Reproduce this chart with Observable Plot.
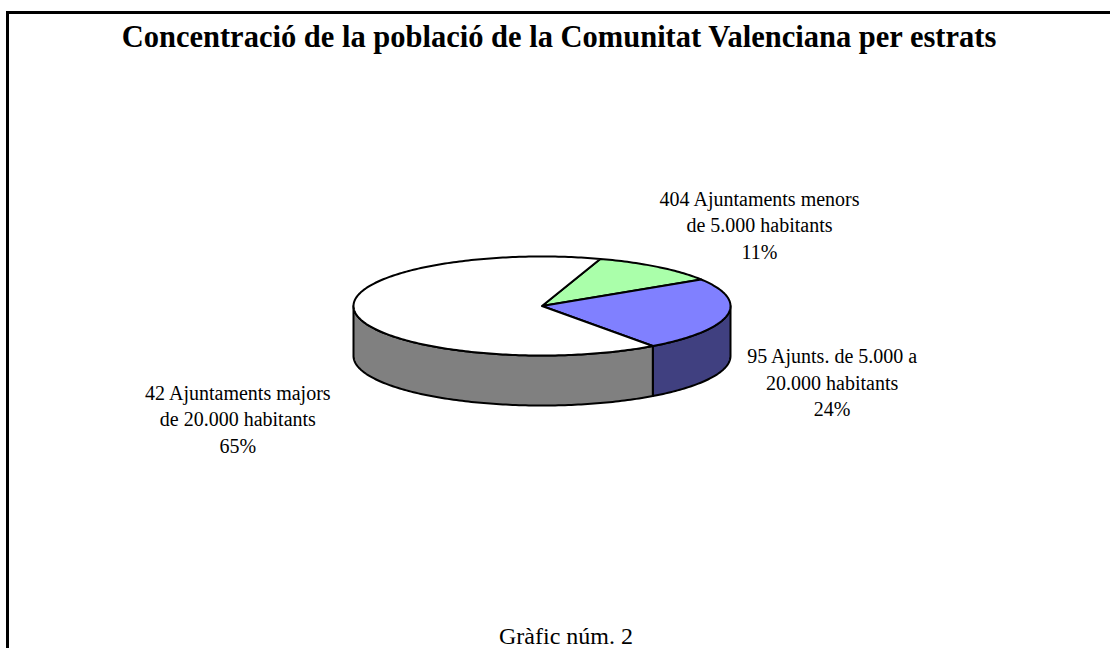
<!DOCTYPE html>
<html><head><meta charset="utf-8">
<script src="https://cdn.jsdelivr.net/npm/d3@7"></script>
<script src="https://cdn.jsdelivr.net/npm/@observablehq/plot@0.6"></script>
<style>
html,body{margin:0;padding:0;background:#fff;}
#page{position:relative;width:1110px;height:648px;overflow:hidden;font-family:"Liberation Serif","Times New Roman",serif;color:#000;}
#frame{position:absolute;left:6px;top:11px;width:1200px;height:800px;border:3px solid #000;box-sizing:border-box;}
#chart{position:absolute;left:0;top:0;}
#title{position:absolute;left:6px;width:1106px;top:22px;text-align:center;font-weight:bold;font-size:30.5px;line-height:1;white-space:nowrap;}
#caption{position:absolute;left:366px;width:400px;top:626px;height:20px;text-align:center;font-size:24px;line-height:20px;white-space:nowrap;}
</style></head>
<body>
<div id="page">
  <div id="frame"></div>
  <div id="chart"></div>
  <div id="title">Concentració de la població de la Comunitat Valenciana per estrats</div>
  <div id="caption">Gràfic núm. 2</div>
</div>
<script>
// ---- data ----
const labelLines = [
  ["404 Ajuntaments menors", "de 5.000 habitants"],
  ["95 Ajunts. de 5.000 a", "20.000 habitants"],
  ["42 Ajuntaments majors", "de 20.000 habitants"]
];
const shares = [11, 24, 65];
const topColors = ["#aaffaa", "#8080ff", "#ffffff"];
const sideColors = ["#558055", "#404080", "#808080"];

// ---- layout ----
const startAngle = -72;       // degrees, clockwise on screen
const depth = 50 / 49.5;      // wall height in ellipse-radius units
const labelOffsets = [[102, -43], [105, 66], [-118, 104]];

const total = d3.sum(shares);
let acc = startAngle;
const slices = shares.map((v, i) => {
  const a = acc, b = acc + v / total * 360;
  acc = b;
  return {i, a, b, mid: (a + b) / 2, label: labelLines[i].join("\n") + "\n" + v + "%"};
});
const rad = t => t * Math.PI / 180;
function arc(a, b, dy = 0) {
  const n = Math.max(2, Math.ceil(Math.abs(b - a)));
  return d3.range(n + 1).map(k => {
    const t = rad(a + (b - a) * k / n);
    return {x: Math.cos(t), y: Math.sin(t) + dy};
  });
}

const marks = [];
// side walls (front half only: 0..180 deg)
for (const s of slices) {
  for (const k of [-1, 0, 1]) {
    const lo = Math.max(s.a, 360 * k), hi = Math.min(s.b, 180 + 360 * k);
    if (hi > lo) {
      const pts = arc(lo, hi).concat(arc(hi, lo, depth));
      marks.push(Plot.line(pts, {x: "x", y: "y", curve: "linear-closed", fill: sideColors[s.i], stroke: "#000", strokeWidth: 2, strokeLinejoin: "round"}));
    }
  }
}
// top sectors
for (const s of slices) {
  const pts = [{x: 0, y: 0}].concat(arc(s.a, s.b));
  marks.push(Plot.line(pts, {x: "x", y: "y", curve: "linear-closed", fill: topColors[s.i], stroke: "#000", strokeWidth: 2, strokeLinejoin: "round"}));
}
// labels
for (const s of slices) {
  const [dx, dy] = labelOffsets[s.i];
  marks.push(Plot.text([s], {
    x: d => Math.cos(rad(d.mid)), y: d => Math.sin(rad(d.mid)),
    text: "label", dx, dy, lineAnchor: "middle", textAnchor: "middle",
    lineHeight: 1.32, fontSize: 20, fill: "#000",
    fontFamily: "Liberation Serif, Times New Roman, serif"
  }));
}

const chart = Plot.plot({
  width: 1110, height: 648,
  marginLeft: 353, marginRight: 380,
  marginTop: 256, marginBottom: 293,
  x: {domain: [-1, 1], axis: null},
  y: {domain: [-1, 1], reverse: true, axis: null},
  style: {background: "transparent", overflow: "visible"},
  marks
});
document.getElementById("chart").appendChild(chart);
</script>
</body></html>
